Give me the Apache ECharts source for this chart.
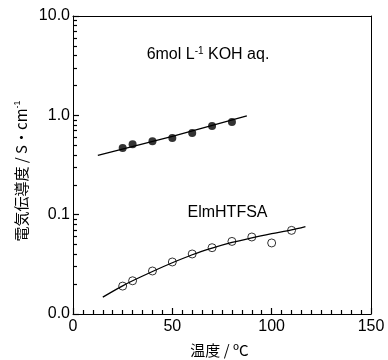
<!DOCTYPE html>
<html><head><meta charset="utf-8">
<script src="https://cdn.jsdelivr.net/npm/echarts@6/dist/echarts.min.js"></script>
<style>html,body{margin:0;padding:0;background:#fff}#c{width:388px;height:360px}</style>
</head><body><div id="c"></div>
<script>
// Data
const tempKOH = [25, 30, 40, 50, 60, 70, 80];
const condKOH = [0.469, 0.511, 0.547, 0.592, 0.665, 0.782, 0.858];
const fitKOHx = [12.5, 50, 87.5];
const fitKOHy = [0.395, 0.615, 0.986];
const tempIL = [25, 30, 40, 50, 60, 70, 80, 90, 100, 110];
const condIL = [0.0191, 0.0216, 0.0271, 0.0334, 0.0402, 0.0465, 0.0538, 0.0596, 0.0519, 0.0695];
const fitILx = [15, 20, 25, 30, 40, 50, 60, 70, 80, 90, 100, 110, 117];
const fitILy = [0.0148, 0.0169, 0.0192, 0.0216, 0.0268, 0.0328, 0.0395, 0.046, 0.0525, 0.0585, 0.0644, 0.0703, 0.076];
const yMinorValues = [2,3,4,5,6,7,8,9].flatMap(m => [-2, -1, 0].map(e => Math.log10(m) + e));
const xTickLabels = ['0', '50', '100', '150'];

const zip = (a, b) => a.map((v, i) => [v, b[i]]);
const FONT = '"Liberation Sans", Arial, sans-serif';
const chart = echarts.init(document.getElementById('c'));
chart.setOption({
  animation: false,
  grid: {left: 73, right: 17, top: 16, bottom: 46},
  xAxis: [{
    type: 'value', min: 0, max: 150, interval: 50,
    axisLine: {onZero: false, lineStyle: {color: '#000', width: 1}},
    axisTick: {show: true, inside: true, length: 6, lineStyle: {color: '#000', width: 1.2}},
    minorTick: {show: true, splitNumber: 10, length: 4, lineStyle: {color: '#000', width: 1.2}},
    splitLine: {show: false},
    axisLabel: {color: '#000', fontSize: 16, fontFamily: FONT, margin: 5,
      formatter: v => xTickLabels[Math.round(v / 50)]}
  }, {
    type: 'value', min: 0, max: 150, position: 'top',
    axisLine: {show: true, onZero: false, lineStyle: {color: '#000', width: 1}},
    axisTick: {show: false}, axisLabel: {show: false}, splitLine: {show: false}
  }],
  yAxis: [{
    type: 'log', logBase: 10, min: 0.01, max: 10,
    axisLine: {show: true, onZero: false, lineStyle: {color: '#000', width: 1}},
    axisTick: {show: true, inside: true, length: 6, lineStyle: {color: '#000', width: 1.2}},
    splitLine: {show: false},
    axisLabel: {color: '#000', fontSize: 16, fontFamily: FONT, margin: 3,
      formatter: v => Number(v).toFixed(1)}
  }, {
    type: 'value', min: -2, max: 1, position: 'left', offset: 0,
    axisLine: {show: false, onZero: false},
    axisTick: {show: true, inside: true, length: 4, customValues: yMinorValues, lineStyle: {color: '#000', width: 1.2}},
    axisLabel: {show: false},
    splitLine: {show: false}
  }, {
    type: 'value', min: -2, max: 1, position: 'right', offset: 0,
    axisLine: {show: true, onZero: false, lineStyle: {color: '#000', width: 1}},
    axisTick: {show: false}, axisLabel: {show: false}, splitLine: {show: false}
  }],
  graphic: [
    {type: 'text', x: 208, y: 55, style: {text: '6mol L{s|-1} KOH aq.', font: '16px ' + FONT, fill: '#000', align: 'center', verticalAlign: 'middle',
      rich: {s: {fontSize: 10, fontFamily: FONT, verticalAlign: 'top', padding: [0, 0, 8, 0]}}}},
    {type: 'text', x: 227.5, y: 213, style: {text: 'ElmHTFSA', font: '16px ' + FONT, fill: '#000', align: 'center', verticalAlign: 'middle'}},
    {type: 'text', x: 219.5, y: 350, style: {text: '温度 / ºC', font: '15px "Noto Sans CJK JP", ' + FONT, fill: '#000', align: 'center', verticalAlign: 'middle'}},
    {type: 'text', x: 21.5, y: 171, rotation: Math.PI / 2, style: {text: '電気伝導度 / S・cm{s|-1}', font: '15px "Noto Sans CJK JP", ' + FONT, fill: '#000', align: 'center', verticalAlign: 'middle',
      rich: {s: {fontSize: 9, fontFamily: FONT, verticalAlign: 'top', padding: [0, 0, 8, 0]}}}}
  ],
  series: [
    {type: 'line', data: zip(fitKOHx, fitKOHy), showSymbol: false, symbol: 'none', lineStyle: {color: '#000', width: 1.3}, silent: true},
    {type: 'line', data: zip(fitILx, fitILy), showSymbol: false, symbol: 'none', smooth: 0.3, lineStyle: {color: '#000', width: 1.3}, silent: true},
    {type: 'scatter', data: zip(tempKOH, condKOH), symbol: 'circle', symbolSize: 8, itemStyle: {color: '#000'}},
    {type: 'scatter', data: zip(tempIL, condIL), symbol: 'circle', symbolSize: 8, itemStyle: {color: '#fff', borderColor: '#000', borderWidth: 1}}
  ]
});
</script></body></html>
